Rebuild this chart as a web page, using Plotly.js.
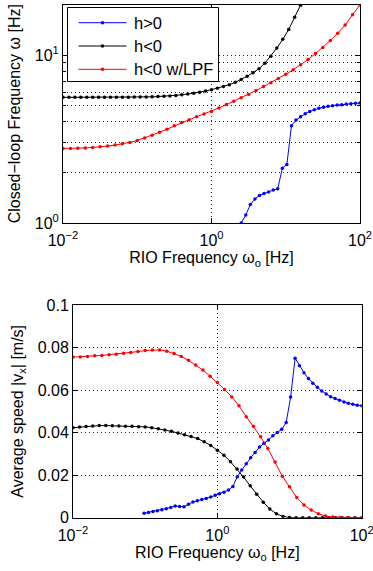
<!DOCTYPE html>
<html>
<head>
<meta charset="utf-8">
<script src="https://cdn.plot.ly/plotly-3.0.1.min.js"></script>
<style>
  html, body { margin: 0; padding: 0; background: #fff; }
  #chart { width: 373px; height: 571px; }
</style>
</head>
<body>
<div id="chart"></div>
<script>
// ---------- DATA (x given as log10 exponents of RIO frequency in Hz) ----------
const seriesNames = ['h&gt;0', 'h&lt;0', 'h&lt;0 w/LPF'];

// Top panel: closed-loop frequency [Hz]
const topBlueExp = [0.400, 0.462, 0.523, 0.585, 0.646, 0.708, 0.769, 0.831, 0.892, 0.954,
  1.015, 1.077, 1.138, 1.200, 1.262, 1.323, 1.385, 1.446, 1.508, 1.569, 1.631, 1.692,
  1.754, 1.815, 1.877, 1.938, 2.000];
const topBlueY = [1.00, 1.116, 1.29, 1.39, 1.46, 1.50, 1.53, 1.57, 1.60, 2.12,
  2.23, 3.79, 4.10, 4.29, 4.47, 4.62, 4.73, 4.82, 4.89, 4.95, 4.99, 5.04,
  5.06, 5.11, 5.13, 5.16, 5.18];

const topBlackExp = [-2.00, -1.92, -1.84, -1.76, -1.68, -1.60, -1.52, -1.44, -1.36, -1.28,
  -1.20, -1.12, -1.04, -0.96, -0.88, -0.80, -0.72, -0.64, -0.56, -0.48, -0.40, -0.32,
  -0.24, -0.16, -0.08, 0.00, 0.08, 0.16, 0.24, 0.32, 0.40, 0.48, 0.56, 0.64, 0.72,
  0.80, 0.88, 0.96, 1.04, 1.12, 1.20, 1.28];
const topBlackY = [5.60, 5.60, 5.60, 5.60, 5.60, 5.60, 5.60, 5.60, 5.60, 5.60,
  5.61, 5.61, 5.62, 5.62, 5.63, 5.64, 5.66, 5.68, 5.71, 5.75, 5.80, 5.86,
  5.93, 6.01, 6.11, 6.22, 6.35, 6.50, 6.66, 6.88, 7.15, 7.48, 7.85, 8.30, 8.95,
  9.85, 11.0, 12.4, 14.2, 16.8, 19.8, 23.5];

const redExp = [-2.0, -1.9, -1.8, -1.7, -1.6, -1.5, -1.4, -1.3, -1.2, -1.1, -1.0,
  -0.9, -0.8, -0.7, -0.6, -0.5, -0.4, -0.3, -0.2, -0.1, 0.0, 0.1, 0.2, 0.3, 0.4,
  0.5, 0.6, 0.7, 0.8, 0.9, 1.0, 1.1, 1.2, 1.3, 1.4, 1.5, 1.6, 1.7, 1.8, 1.9, 2.0];
const topRedY = [2.78, 2.78, 2.79, 2.80, 2.82, 2.84, 2.87, 2.91, 2.96, 3.02, 3.10,
  3.21, 3.33, 3.47, 3.62, 3.79, 3.96, 4.12, 4.29, 4.46, 4.62, 4.84, 5.07, 5.31, 5.56,
  5.83, 6.15, 6.49, 6.85, 7.24, 7.69, 8.18, 8.75, 9.40, 10.2, 11.1, 12.2, 13.5, 15.1,
  17.4, 19.9];

// Bottom panel: average speed |v_x| [m/s]
const botBlueExp = [-1.015, -0.954, -0.892, -0.831, -0.769, -0.708, -0.646, -0.585,
  -0.523, -0.462, -0.400, -0.338, -0.277, -0.215, -0.154, -0.092, -0.031, 0.031,
  0.092, 0.154, 0.215, 0.277, 0.338, 0.400, 0.462, 0.523, 0.585, 0.646, 0.708,
  0.769, 0.831, 0.892, 0.954, 1.015, 1.077, 1.138, 1.200, 1.262, 1.323, 1.385,
  1.446, 1.508, 1.569, 1.631, 1.692, 1.754, 1.815, 1.877, 1.938, 2.000];
const botBlueY = [0.0021, 0.0025, 0.0029, 0.0033, 0.0037, 0.0042, 0.0048, 0.0055,
  0.0053, 0.0051, 0.0063, 0.0074, 0.0080, 0.0085, 0.0090, 0.0097, 0.0105, 0.0113,
  0.0120, 0.0130, 0.0147, 0.0193, 0.0224, 0.0254, 0.0282, 0.0307, 0.0332, 0.0350, 0.0365,
  0.0385, 0.0400, 0.0416, 0.0447, 0.0567, 0.0750, 0.0714, 0.0682, 0.0654, 0.0632, 0.0613,
  0.0596, 0.0582, 0.0569, 0.0560, 0.0552, 0.0544, 0.0538, 0.0533, 0.0529, 0.0526];

const botBlackExp = [-2.000, -1.909, -1.818, -1.727, -1.636, -1.545, -1.455, -1.364,
  -1.273, -1.182, -1.091, -1.000, -0.909, -0.818, -0.727, -0.636, -0.545, -0.455,
  -0.364, -0.273, -0.182, -0.091, 0.000, 0.091, 0.182, 0.273, 0.364, 0.455, 0.545,
  0.636, 0.727, 0.818, 0.909, 1.000, 1.091, 1.182, 1.273, 1.364, 1.455, 1.545,
  1.636, 1.727, 1.818, 1.909, 2.000];
const botBlackY = [0.0423, 0.0426, 0.0429, 0.0431, 0.0433, 0.0433, 0.0432, 0.0431,
  0.0430, 0.0430, 0.0428, 0.0427, 0.0423, 0.0418, 0.0412, 0.0406, 0.0398, 0.0390,
  0.0382, 0.0372, 0.0357, 0.0340, 0.0317, 0.0294, 0.0263, 0.0229, 0.0191, 0.0150, 0.0110,
  0.0073, 0.0041, 0.0018, 0.0006, 0.0001, 0, 0, 0, 0, 0, 0, 0, 0, 0, 0, 0];

const botRedY = [0.0755, 0.0756, 0.0758, 0.0761, 0.0763, 0.0766, 0.0769, 0.0773, 0.0777,
  0.0781, 0.0786, 0.0789, 0.0789, 0.0783, 0.0772, 0.0758, 0.0740, 0.0718, 0.0694, 0.0665,
  0.0636, 0.0603, 0.0568, 0.0526, 0.0475, 0.0430, 0.0380, 0.0325, 0.0262, 0.0195, 0.0145,
  0.0095, 0.0060, 0.0036, 0.0018, 0.0008, 0.0003, 0.0001, 0, 0, 0];

const xTickVals = [0.01, 1, 100];
const xTickText = ['10<sup>−2</sup>', '10<sup>0</sup>', '10<sup>2</sup>'];
const topYTickVals = [1, 10];
const topYTickText = ['10<sup>0</sup>', '10<sup>1</sup>'];
const botYTickVals = [0, 0.02, 0.04, 0.06, 0.08, 0.1];
const botYTickText = ['0', '0.02', '0.04', '0.06', '0.08', '0.1'];

// ---------- BUILD ----------
const pow10 = a => a.map(e => Math.pow(10, e));
const colors = ['#0000ff', '#000000', '#ff0000'];

function tr(xe, y, i, xa, ya) {
  return {
    x: pow10(xe), y: y, xaxis: xa, yaxis: ya, type: 'scatter', mode: 'lines+markers',
    name: seriesNames[i], showlegend: false,
    line: { color: colors[i], width: 1 },
    marker: { color: colors[i], size: 3.5, symbol: 'circle' }
  };
}

const data = [
  tr(topBlueExp, topBlueY, 0, 'x', 'y'),
  tr(topBlackExp, topBlackY, 1, 'x', 'y'),
  tr(redExp, topRedY, 2, 'x', 'y'),
  tr(botBlueExp, botBlueY, 0, 'x2', 'y2'),
  tr(botBlackExp, botBlackY, 1, 'x2', 'y2'),
  tr(redExp, botRedY, 2, 'x2', 'y2')
];

const FONT = { family: 'Liberation Sans, Arial, Helvetica, sans-serif', size: 16, color: '#000' };
const GRID = { showgrid: true, gridcolor: '#222', griddash: '1px,3px', gridwidth: 1 };
const AX = Object.assign({
  showline: true, linecolor: '#000', linewidth: 1, mirror: 'ticks',
  ticks: 'inside', ticklen: 5, tickcolor: '#000', tickwidth: 1,
  zeroline: false, tickmode: 'array', tickfont: FONT, ticklabeloverflow: 'allow'
}, GRID);

const W = 373, H = 571;
const px = v => v / W;          // horizontal pixel -> paper
const py = v => 1 - v / H;      // vertical pixel -> paper

// Legend box (MATLAB-style), drawn with shapes + annotations in paper space
const legBox = { x0: 67.5, x1: 218.5, y0: 7.5, y1: 81.5 };
const legRowY = [22.7, 46, 69.3];
const legLineX = [78.5, 126.5];
const shapes = [{
  type: 'rect', xref: 'paper', yref: 'paper', layer: 'above',
  x0: px(legBox.x0), x1: px(legBox.x1), y0: py(legBox.y1), y1: py(legBox.y0),
  fillcolor: '#fff', line: { color: '#000', width: 1 }
}];
const annotations = [];
legRowY.forEach((yy, i) => {
  shapes.push({
    type: 'line', xref: 'paper', yref: 'paper', layer: 'above',
    x0: px(legLineX[0]), x1: px(legLineX[1]), y0: py(yy), y1: py(yy),
    line: { color: colors[i], width: 1 }
  });
  const cx = (legLineX[0] + legLineX[1]) / 2, r = 1.8;
  shapes.push({
    type: 'circle', xref: 'paper', yref: 'paper', layer: 'above',
    x0: px(cx - r), x1: px(cx + r), y0: py(yy + r), y1: py(yy - r),
    fillcolor: colors[i], line: { color: colors[i], width: 0 }
  });
  annotations.push({
    xref: 'paper', yref: 'paper', x: px(131.5), y: py(yy),
    xanchor: 'left', yanchor: 'middle', showarrow: false,
    text: seriesNames[i],
    font: { family: FONT.family, size: 16.5, color: '#000' }
  });
});

const layout = {
  width: W, height: H,
  margin: { l: 0, r: 0, t: 0, b: 0 },
  paper_bgcolor: '#fff', plot_bgcolor: '#fff',
  font: FONT,
  showlegend: false,
  shapes: shapes,
  annotations: annotations,
  xaxis: Object.assign({}, AX, {
    type: 'log', range: [-2, 2], domain: [63 / W, 360 / W], anchor: 'y',
    tickvals: xTickVals, ticktext: xTickText, ticklabelstandoff: 3,
    title: { text: 'RIO Frequency ω<sub>o</sub> [Hz]', font: FONT, standoff: 2 }
  }),
  yaxis: Object.assign({}, AX, {
    type: 'log', range: [0, Math.log10(20)], domain: [1 - 223 / H, 1 - 4.5 / H], anchor: 'x',
    tickvals: topYTickVals, ticktext: topYTickText,
    minor: { tickvals: [2, 3, 4, 5, 6, 7, 8, 9, 20], ticks: 'inside', ticklen: 3,
             tickcolor: '#000', showgrid: true, gridcolor: '#222', griddash: '1px,3px', gridwidth: 1 },
    title: { text: 'Closed−loop Frequency ω [Hz]', font: FONT, standoff: 10 }
  }),
  xaxis2: Object.assign({}, AX, {
    type: 'log', range: [-2, 2], domain: [73 / W, 361.7 / W], anchor: 'y2',
    tickvals: xTickVals, ticktext: xTickText, ticklabelstandoff: 3,
    title: { text: 'RIO Frequency ω<sub>o</sub> [Hz]', font: FONT, standoff: 2 }
  }),
  yaxis2: Object.assign({}, AX, {
    range: [0, 0.1], domain: [1 - 517.7 / H, 1 - 305 / H], anchor: 'x2',
    tickvals: botYTickVals, ticktext: botYTickText,
    title: { text: 'Average speed |v<sub>x</sub>| [m/s]', font: FONT, standoff: 10 }
  })
};

Plotly.newPlot('chart', data, layout, { displayModeBar: false, staticPlot: true });
</script>
</body>
</html>
